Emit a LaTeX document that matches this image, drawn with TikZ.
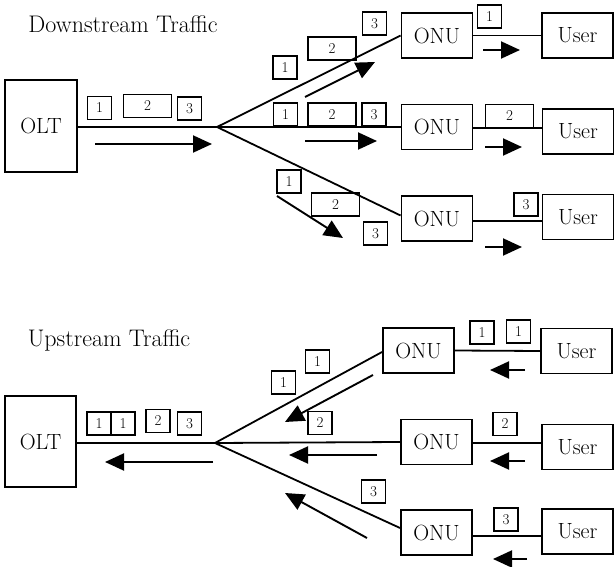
\documentclass[tikz,border=0pt]{standalone}
\usepackage{fontspec}
\usepackage{tikz}
\usetikzlibrary{arrows.meta}
\tikzset{
  unit/.style ={draw, line width=1.9pt, minimum width=71pt, minimum height=45pt, inner sep=0pt, font=\fontsize{22}{26}\selectfont\addfontfeature{LetterSpace=3}},
  olt/.style ={unit, minimum width=72pt, minimum height=92pt},
  pkt/.style ={draw, line width=1.6pt, minimum width=24pt, minimum height=23pt, inner sep=0pt, font=\fontsize{15}{17}\selectfont},
  wpkt/.style ={pkt, minimum width=48pt},
  fiber/.style ={line width=1.8pt},
  flow/.style ={line width=1.9pt, -{Triangle[length=19pt,width=17pt]}},
  title/.style ={font=\fontsize{24}{28}\selectfont\addfontfeature{LetterSpace=12}}
}

\begin{document}
\begin{tikzpicture}[x=1pt,y=-1pt]
	\useasboundingbox (0,0) rectangle (614,567);
	% downstream
	\node[title] (dtitle) at (123,24) {Downstream Traffic};
	\node[olt] (olt1) at (41,126) {OLT};
	\coordinate (ds) at (217,127);
	\node[unit] (onu1) at (437,35.5) {ONU};
	\node[unit] (onu2) at (437,127) {ONU};
	\node[unit] (onu3) at (437,218.5) {ONU};
	\node[unit] (usr1) at (577.5,35.5) {User};
	\node[unit] (usr2) at (578,131.5) {User};
	\node[unit] (usr3) at (578,217) {User};
	\draw[fiber] (olt1.east |- ds) -- (ds) -- (onu2.west);
	\draw[fiber] (ds) -- (onu1.west);
	\draw[fiber] (ds) -- ([yshift=3pt]onu3.west);
	\draw[fiber] (onu1.east) -- (usr1.west);
	\draw[fiber] ([yshift=-1pt]onu2.east) -- ([yshift=-1pt]onu2.east -| usr2.west);
	\draw[fiber] ([yshift=-2.5pt]onu3.east) -- ([yshift=-2.5pt]onu3.east -| usr3.west);
	\node[pkt] (d1) at (99.5,108) {1};
	\node[wpkt] (d2) at (147.5,106) {2};
	\node[pkt] (d3) at (189.5,108.5) {3};
	\node[pkt] (da1) at (285,67.5) {1};
	\node[wpkt] (da2) at (332,48.5) {2};
	\node[pkt] (da3) at (374.5,23.5) {3};
	\node[pkt] (db1) at (285.5,114.5) {1};
	\node[wpkt] (db2) at (332,114.5) {2};
	\node[pkt] (db3) at (374,114.5) {3};
	\node[pkt] (dc1) at (289,181.5) {1};
	\node[wpkt] (dc2) at (335.5,204.5) {2};
	\node[pkt] (dc3) at (375.5,233.5) {3};
	\node[pkt] (du1) at (489.5,16.5) {1};
	\node[wpkt] (du2) at (509.5,116) {2};
	\node[pkt] (du3) at (526,204.5) {3};
	\draw[flow] (95,144) -- (212,144);
	\draw[flow] (305,97) -- (375,62);
	\draw[flow] (305,141) -- (377,141);
	\draw[flow] (277,196) -- (343,238);
	\draw[flow] (483,50) -- (520,50);
	\draw[flow] (485,147) -- (522,147);
	\draw[flow] (485,247) -- (522,247);
	% upstream
	\node[title] (utitle) at (109,340) {Upstream Traffic};
	\node[olt, minimum width=71pt, minimum height=91pt] (olt2) at (40.5,441.5) {OLT};
	\coordinate (us) at (215,443);
	\node[unit] (onu4) at (418.5,350.5) {ONU};
	\node[unit] (onu5) at (436.5,442) {ONU};
	\node[unit] (onu6) at (436.5,532.5) {ONU};
	\node[unit] (usr4) at (576.5,351) {User};
	\node[unit] (usr5) at (577.5,447) {User};
	\node[unit] (usr6) at (577.5,531.5) {User};
	\draw[fiber] (olt2.east |- us) -- (us) -- (onu5.west);
	\draw[fiber] (us) -- ([yshift=-1.5pt]onu4.west);
	\draw[fiber] (us) -- ([yshift=4.5pt]onu6.west);
	\draw[fiber] (onu4.east) -- (usr4.west);
	\draw[fiber] ([yshift=-1pt]onu5.east) -- ([yshift=-1pt]onu5.east -| usr5.west);
	\draw[fiber] ([yshift=-3.5pt]onu6.east) -- ([yshift=-3.5pt]onu6.east -| usr6.west);
	\node[pkt] (u1) at (99,423.5) {1};
	\node[pkt] (u1b) at (123,423.5) {1};
	\node[pkt] (u2) at (158,421) {2};
	\node[pkt] (u3) at (189.5,423.5) {3};
	\node[pkt] (ua1) at (283.5,382.5) {1};
	\node[pkt] (ua1b) at (317.5,361.5) {1};
	\node[pkt] (ua2) at (320,423) {2};
	\node[pkt] (uc3) at (373.5,491.5) {3};
	\node[pkt] (uu1) at (482,332.5) {1};
	\node[pkt] (uu1b) at (518.5,331.5) {1};
	\node[pkt] (uu2) at (505,424) {2};
	\node[pkt] (uu3) at (506,519.5) {3};
	\draw[flow] (213,462) -- (105,462);
	\draw[flow] (373,375) -- (285,422);
	\draw[flow] (377,455) -- (289,455);
	\draw[flow] (367,538) -- (285,493);
	\draw[flow] (525,370) -- (490,370);
	\draw[flow] (525,461) -- (490,461);
	\draw[flow] (527,559) -- (493,559);
\end{tikzpicture}
\end{document}
